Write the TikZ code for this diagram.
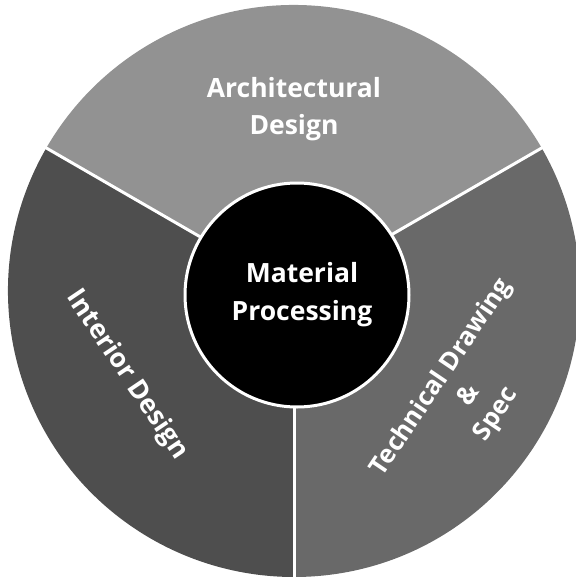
\documentclass[tikz,border=0pt]{standalone}
\usepackage{fontspec}
\setmainfont{Open Sans}
\usetikzlibrary{calc}
\definecolor{topgray}{HTML}{929292}
\definecolor{leftgray}{HTML}{4E4E4E}
\definecolor{rightgray}{HTML}{696969}
\tikzset{
  lbl/.style={text=white, font=\bfseries\fontsize{26.5}{37}\selectfont, align=center, inner sep=0pt},
  divider/.style={draw=white, line width=3pt},
}
\begin{document}
\begin{tikzpicture}[x=1pt,y=1pt]
\useasboundingbox (0,0) rectangle (576,-579);
\clip (0,0) rectangle (576,-579);
\coordinate (O) at (294,-291);
\def\R{286}
% sectors
\fill[topgray] (O) -- ++(30:\R) arc[start angle=30,end angle=150,radius=\R] -- cycle;
\fill[leftgray] (O) -- ++(150:\R) arc[start angle=150,end angle=270,radius=\R] -- cycle;
\fill[rightgray] (O) -- ++(270:\R) arc[start angle=270,end angle=390,radius=\R] -- cycle;
\coordinate (e1) at ($(O)+(30:\R+2)$);
\coordinate (e2) at ($(O)+(150:\R+2)$);
\coordinate (e3) at ($(O)+(270:\R+2)$);
\coordinate (c1) at ($(O)+(30:90)$);
\coordinate (c2) at ($(O)+(150:90)$);
\coordinate (c3) at ($(O)+(270:90)$);
\draw[divider] (c1) -- (e1);
\draw[divider] (c2) -- (e2);
\draw[divider] (c3) -- (e3);
% centre circle
\node[circle, fill=black, draw=white, line width=3pt, minimum size=224pt, inner sep=0pt] (mp) at (297,-295) {};
% labels
\node[lbl, anchor=base] (arch) at (294,-134) {Architectural\\Design};
\node[lbl, anchor=base, font=\bfseries\fontsize{26.5}{38}\selectfont] (mat) at (302,-320) {Material\\Processing};
\node[lbl, rotate=-56] (int) at (127,-375) {Interior Design};
\node[lbl, rotate=56, font=\bfseries\fontsize{25.5}{33}\selectfont] (tech) at (469,-396) {Technical Drawing\\\&\\Spec};
\end{tikzpicture}
\end{document}
